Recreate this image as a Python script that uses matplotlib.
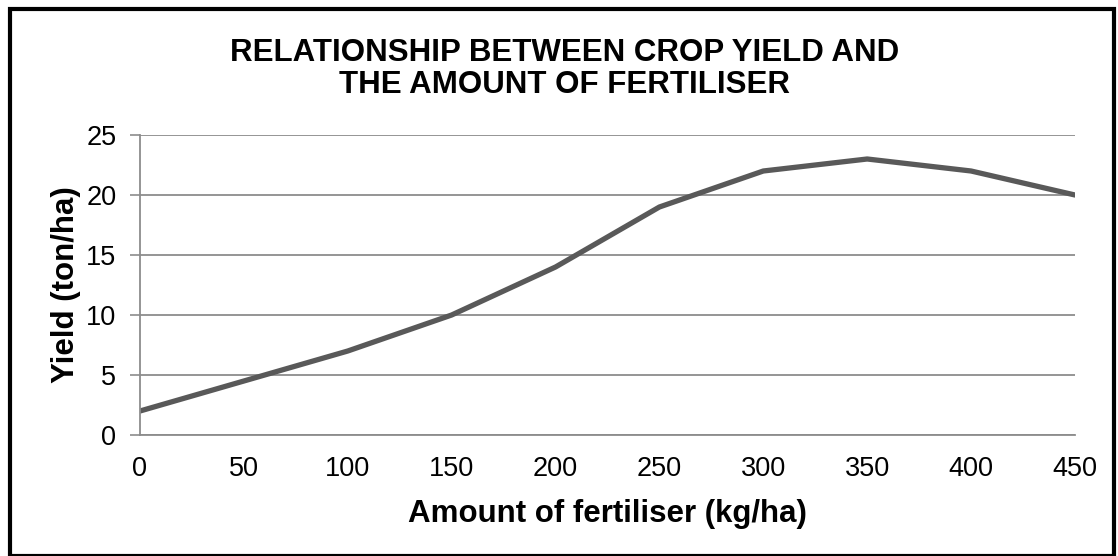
import matplotlib
matplotlib.use('Agg')
import matplotlib.pyplot as plt
from matplotlib.patches import Rectangle

# data
fertiliser = [0, 50, 100, 150, 200, 250, 300, 350, 400, 450]
crop_yield = [2, 4.5, 7, 10, 14, 19, 22, 23, 22, 20]
yticks = [0, 5, 10, 15, 20, 25]

plt.rcParams['font.family'] = ['Liberation Sans', 'DejaVu Sans']

fig = plt.figure(figsize=(11.18, 5.56), dpi=100)
ax = fig.add_axes([0.1252, 0.2176, 0.8363, 0.5396])

ax.plot(fertiliser, crop_yield, color='#595959', linewidth=3.8, solid_capstyle='round')

ax.set_xlim(0, 450)
ax.set_ylim(0, 25)
ax.set_xticks(fertiliser)
ax.set_yticks(yticks)
ax.tick_params(axis='x', length=0, labelsize=19.5, pad=15)
ax.tick_params(axis='y', length=7, width=1.2, color='#8c8c8c', labelsize=19.5, pad=10)
ax.grid(axis='y', color='#8c8c8c', linewidth=1.3)
ax.set_axisbelow(True)
for side in ['top', 'right']:
    ax.spines[side].set_visible(False)
for side in ['left', 'bottom']:
    ax.spines[side].set_color('#8c8c8c')
    ax.spines[side].set_linewidth(1.3)

ax.set_xlabel('Amount of fertiliser (kg/ha)', fontsize=22.5, fontweight='bold', labelpad=12)
ax.set_ylabel('Yield (ton/ha)', fontsize=22.5, fontweight='bold', labelpad=4)
fig.text(0.505, 0.876, 'RELATIONSHIP BETWEEN CROP YIELD AND\nTHE AMOUNT OF FERTILISER',
         ha='center', va='center', fontsize=22.5, fontweight='bold', linespacing=1.12)

# outer border
fig.patches.append(Rectangle((0.0085, 0.0), 0.988, 0.984, transform=fig.transFigure,
                             fill=False, edgecolor='black', linewidth=3))

fig.savefig('out.png', dpi=100)
